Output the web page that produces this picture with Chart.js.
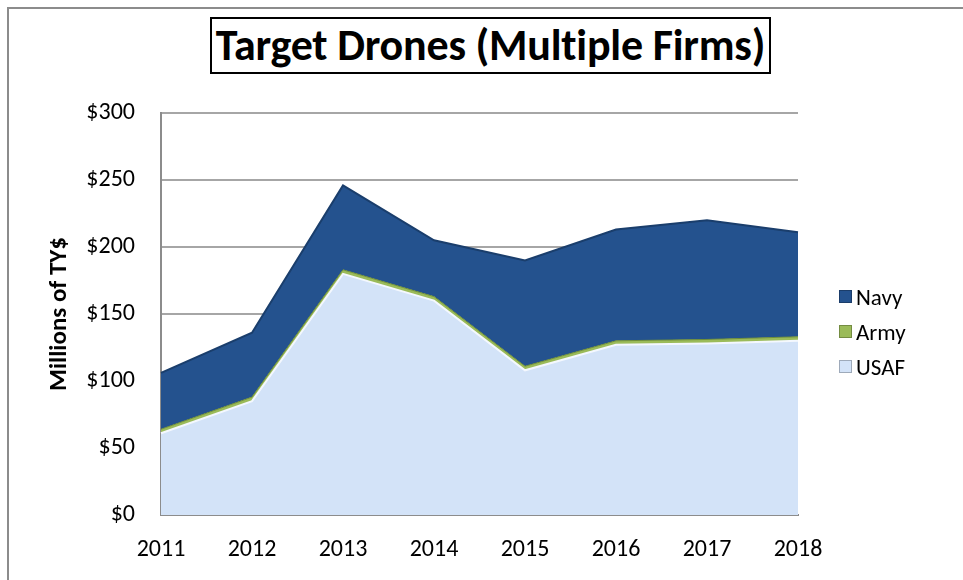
<!DOCTYPE html>
<html>
<head>
<meta charset="utf-8">
<script src="https://cdn.jsdelivr.net/npm/chart.js@4.4.1/dist/chart.umd.min.js"></script>
<style>
    body { margin: 0; background: #fff; }
    #wrap { position: relative; width: 963px; height: 580px; overflow: hidden; font-family: Carlito, Lato, sans-serif; }
    #frame { position: absolute; left: 7px; top: 7px; width: 1000px; height: 620px; border: 2px solid #8c8c8c; }
    #title {
        position: absolute; left: 210px; top: 17px; width: 557px; height: 53px;
        border: 2px solid #000; text-align: center; line-height: 53px;
        font-weight: bold; font-size: 44px; color: #000; letter-spacing: -0.2px;
    }
    #chart { position: absolute; left: 0; top: 0; }
    #legend { position: absolute; left: 839px; top: 279px; }
    .item { height: 35px; display: flex; align-items: center; font-size: 23px; color: #000; }
    .swatch { width: 11px; height: 11px; margin-right: 4px; border: 1px solid rgba(0,0,0,0.25); }
</style>
</head>
<body>
<div id="wrap">
    <div id="frame"></div>
    <div id="title">Target Drones (Multiple Firms)</div>
    <canvas id="chart" width="963" height="580"></canvas>
    <div id="legend"></div>
</div>
<script>
// Data (millions of TY$)
const years = ['2011', '2012', '2013', '2014', '2015', '2016', '2017', '2018'];
const usaf = [61, 85, 180, 160, 108, 127, 128, 130];
const army = [3, 3, 3, 3, 3, 3, 3, 3];
const navy = [42, 48, 63, 42, 79, 83, 89, 78];
const yTicks = [0, 50, 100, 150, 200, 250, 300];

const fontFamily = 'Carlito, Lato, sans-serif';

const series = [
    { label: 'USAF', data: usaf, fill: '#d3e3f8', line: '#f4f8fe', width: 2 },
    { label: 'Army', data: army, fill: '#9bbb59', line: '#6f8f3a', width: 1 },
    { label: 'Navy', data: navy, fill: '#24528e', line: '#1a3e6c', width: 2 }
];

const ctx = document.getElementById('chart').getContext('2d');
const chart = new Chart(ctx, {
    type: 'line',
    data: {
        labels: years,
        datasets: series.map((s, i) => ({
            label: s.label,
            data: s.data,
            backgroundColor: s.fill,
            borderColor: s.line,
            borderWidth: s.width,
            fill: i === 0 ? 'origin' : '-1',
            pointRadius: 0,
            tension: 0
        }))
    },
    options: {
        responsive: false,
        animation: false,
        layout: { padding: { left: 37, top: 113, right: 165, bottom: 0 } },
        plugins: {
            legend: { display: false },
            tooltip: { enabled: false }
        },
        scales: {
            x: {
                offset: false,
                grid: { display: false, drawTicks: false },
                border: { display: true, color: '#8c8c8c', width: 2 },
                ticks: { color: '#000', font: { family: fontFamily, size: 24 }, padding: 21, maxRotation: 0 },
                afterFit: (scale) => { scale.height = 65; }
            },
            y: {
                stacked: true,
                min: yTicks[0],
                max: yTicks[yTicks.length - 1],
                afterBuildTicks: (scale) => { scale.ticks = yTicks.map(v => ({ value: v })); },
                grid: { color: '#a6a6a6', lineWidth: 2, drawTicks: false },
                border: { display: true, color: '#8c8c8c', width: 2 },
                ticks: {
                    color: '#000',
                    font: { family: fontFamily, size: 24 },
                    padding: 26,
                    callback: (v) => '$' + v
                },
                title: {
                    display: true,
                    text: 'Millions of TY$',
                    color: '#000',
                    font: { family: fontFamily, size: 25, weight: 'bold' },
                    padding: { top: 8, bottom: 0 }
                },
                afterFit: (scale) => { scale.width = 124; }
            }
        }
    }
});

// Legend, top to bottom in reverse stacking order
const legend = document.getElementById('legend');
series.slice().reverse().forEach(s => {
    const item = document.createElement('div');
    item.className = 'item';
    item.innerHTML = '<span class="swatch" style="background:' + s.fill + '"></span>' + s.label;
    legend.appendChild(item);
});
</script>
</body>
</html>
